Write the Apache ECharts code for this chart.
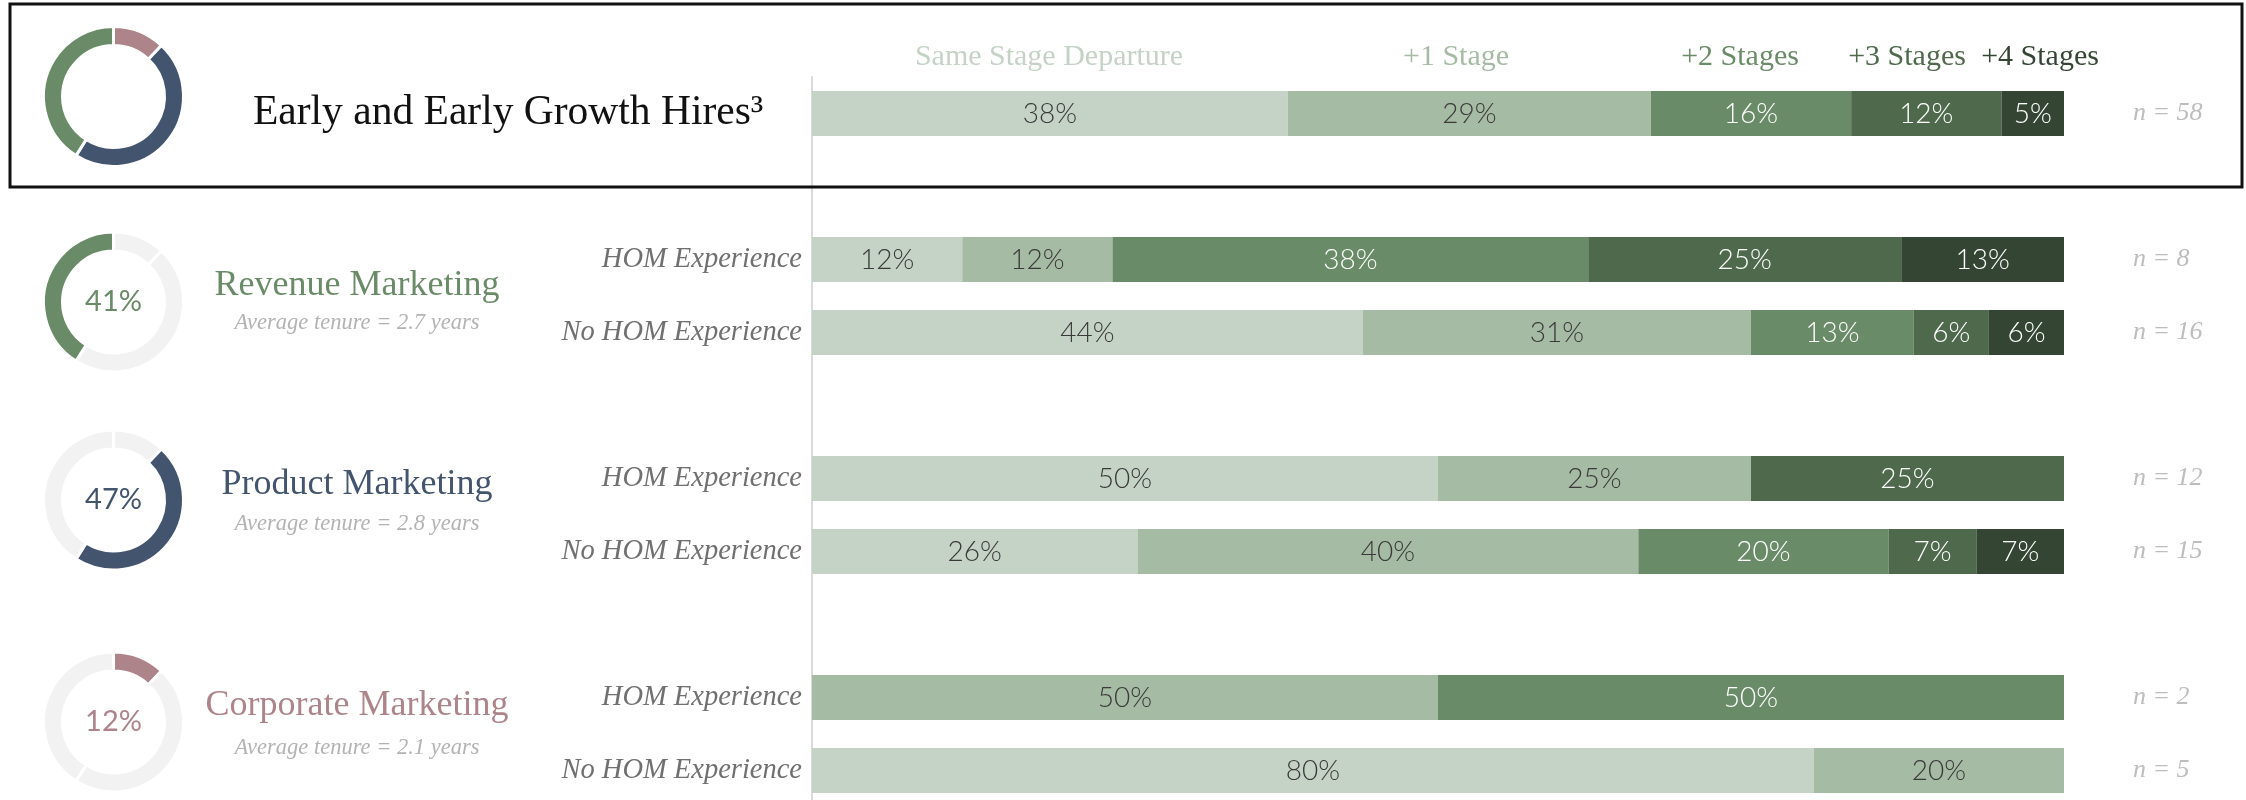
<!DOCTYPE html>
<html>
<head>
<meta charset="utf-8">
<title>Marketing hires: stage progression</title>
<script src="https://cdn.jsdelivr.net/npm/echarts@6/dist/echarts.min.js"></script>
<style>
  html, body { margin: 0; padding: 0; background: #ffffff; }
  #chart { width: 2246px; height: 800px; }
</style>
</head>
<body>
<div id="chart"></div>
<script>
// ---- data ----
const stages = ['Same Stage Departure', '+1 Stage', '+2 Stages', '+3 Stages', '+4 Stages'];

// one row per slot; empty strings are spacer rows between groups
const rowLabels = ['', '', 'HOM Experience', 'No HOM Experience', '', 'HOM Experience', 'No HOM Experience', '', 'HOM Experience', 'No HOM Experience'];
const sampleSizes = ['n = 58', '', 'n = 8', 'n = 16', '', 'n = 12', 'n = 15', '', 'n = 2', 'n = 5'];

const sameStage  = [38, null, 12, 44, null, 50, 26, null, null, 80];
const plusOne    = [29, null, 12, 31, null, 25, 40, null, 50, 20];
const plusTwo    = [16, null, 38, 13, null, null, 20, null, 50, null];
const plusThree  = [12, null, 25, 6, null, 25, 7, null, null, null];
const plusFour   = [5, null, 13, 6, null, null, 7, null, null, null];

// share of early-stage hires by marketing function (donut order: clockwise from top)
const functionNames = ['Corporate Marketing', 'Product Marketing', 'Revenue Marketing'];
const functionShare = [12, 47, 41];
const avgTenure = [2.1, 2.8, 2.7];

const title = 'Early and Early Growth Hires\u00B3';

// ---- styling ----
const stageColors = ['#c4d3c5', '#a6bba4', '#6a8b67', '#4f694d', '#344633'];
const stageLabelColors = ['#3a3a3a', '#3a3a3a', '#ffffff', '#ffffff', '#ffffff'];
const functionColors = ['#ad848a', '#43546e', '#6a8b67'];
const ringGray = '#f2f2f2';
const serif = '"Liberation Serif", "Times New Roman", serif';
const sans = 'Lato, "Open Sans", sans-serif';

const stageValues = [sameStage, plusOne, plusTwo, plusThree, plusFour];

// layout of the left-hand panel (one block per function, top to bottom)
const panels = [
  { fn: 2, cy: 302, titleY: 286, tenureY: 323 },
  { fn: 1, cy: 500, titleY: 485, tenureY: 524 },
  { fn: 0, cy: 722, titleY: 706, tenureY: 748 }
];
const donutX = 113.5;
const donutRadius = [51, 70];

// stage heading positions above the first bar
const headingX = [1049, 1456, 1740, 1907, 2040];

const chart = echarts.init(document.getElementById('chart'), null, { renderer: 'canvas' });

const barSeries = stages.map((name, i) => ({
  name: name,
  type: 'bar',
  stack: 'total',
  barWidth: 45,
  silent: true,
  itemStyle: { color: stageColors[i] },
  label: {
    show: true,
    position: 'inside',
    formatter: p => p.value + '%',
    color: stageLabelColors[i],
    fontFamily: sans,
    fontWeight: 300,
    fontSize: 28
  },
  data: stageValues[i]
}));

function donutSeries(cy, highlight) {
  return {
    type: 'pie',
    center: [donutX, cy],
    radius: donutRadius,
    startAngle: 90,
    clockwise: true,
    silent: true,
    emphasis: { disabled: true },
    labelLine: { show: false },
    itemStyle: { borderColor: '#ffffff', borderWidth: 3 },
    data: functionNames.map((n, i) => {
      const on = highlight === null || highlight === i;
      const item = {
        name: n,
        value: functionShare[i],
        itemStyle: { color: on ? functionColors[i] : ringGray },
        label: { show: false }
      };
      if (highlight === i) {
        item.label = {
          show: true,
          position: 'center',
          formatter: '{c}%',
          color: functionColors[i],
          fontFamily: sans,
          fontSize: 29
        };
      }
      return item;
    })
  };
}

const pieSeries = [donutSeries(96.5, null)].concat(panels.map(p => donutSeries(p.cy, p.fn)));

const graphics = [];
// framed header row
graphics.push({
  type: 'rect',
  z: 100,
  shape: { x: 10, y: 4, width: 2232, height: 183 },
  style: { fill: null, stroke: '#111111', lineWidth: 3 }
});
graphics.push({
  type: 'text',
  z: 100,
  x: 253, y: 113.5,
  style: { text: title, fill: '#111111', font: '41.5px ' + serif, textVerticalAlign: 'middle', textAlign: 'left' }
});
stages.forEach((s, i) => {
  graphics.push({
    type: 'text',
    z: 100,
    x: headingX[i], y: 57,
    style: { text: s, fill: stageColors[i], font: '30px ' + serif, textAlign: 'center', textVerticalAlign: 'middle' }
  });
});
panels.forEach(p => {
  graphics.push({
    type: 'text',
    z: 100,
    x: 357, y: p.titleY,
    style: { text: functionNames[p.fn], fill: functionColors[p.fn], font: '36px ' + serif, textAlign: 'center', textVerticalAlign: 'middle' }
  });
  graphics.push({
    type: 'text',
    z: 100,
    x: 357, y: p.tenureY,
    style: { text: 'Average tenure = ' + avgTenure[p.fn] + ' years', fill: '#b3b3b3', font: 'italic 22.5px ' + serif, textAlign: 'center', textVerticalAlign: 'middle' }
  });
});

chart.setOption({
  animation: false,
  backgroundColor: '#ffffff',
  grid: { left: 812, right: 182, top: 77, height: 730, outerBoundsMode: 'none' },
  xAxis: { type: 'value', min: 0, max: 100, show: false },
  yAxis: [
    {
      type: 'category',
      data: rowLabels,
      inverse: true,
      axisLine: { show: true, lineStyle: { color: '#dadada', width: 2 } },
      axisTick: { show: false },
      splitLine: { show: false },
      axisLabel: {
        margin: 10,
        color: '#707070',
        fontFamily: serif,
        fontStyle: 'italic',
        fontSize: 28.5
      }
    },
    {
      type: 'category',
      data: sampleSizes,
      inverse: true,
      position: 'right',
      axisLine: { show: false },
      axisTick: { show: false },
      splitLine: { show: false },
      axisLabel: {
        margin: 69,
        align: 'left',
        color: '#bdbdbd',
        fontFamily: serif,
        fontStyle: 'italic',
        fontSize: 26
      }
    }
  ],
  series: barSeries.concat(pieSeries),
  graphic: graphics
});
</script>
</body>
</html>
